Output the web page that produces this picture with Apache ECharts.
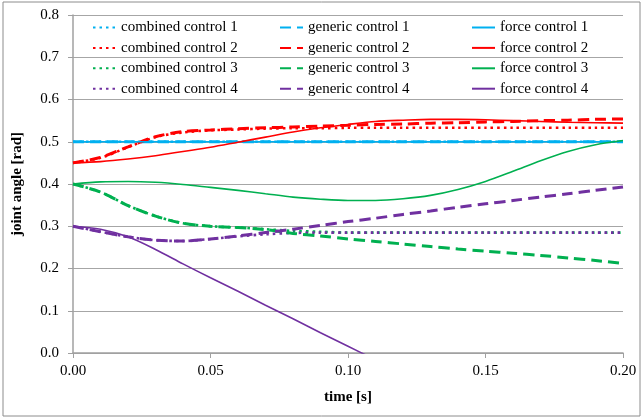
<!DOCTYPE html>
<html>
<head>
<meta charset="utf-8">
<script src="https://cdn.jsdelivr.net/npm/echarts@6/dist/echarts.min.js"></script>
<style>
  html, body { margin: 0; padding: 0; background: #fff; }
  #chart { width: 642px; height: 420px; }
</style>
</head>
<body>
<div id="chart"></div>
<script>
var myChart = echarts.init(document.getElementById('chart'));

// time samples [s]
var times = [0, 0.01, 0.02, 0.03, 0.04, 0.05, 0.06, 0.07, 0.08, 0.09, 0.10,
             0.11, 0.12, 0.13, 0.14, 0.15, 0.16, 0.17, 0.18, 0.19, 0.20];

// joint angle [rad]
var combined1 = [0.5, 0.5, 0.5, 0.5, 0.5, 0.5, 0.5, 0.5, 0.5, 0.5, 0.5,
                 0.5, 0.5, 0.5, 0.5, 0.5, 0.5, 0.5, 0.5, 0.5, 0.5];
var generic1  = [0.5, 0.5, 0.5, 0.5, 0.5, 0.5, 0.5, 0.5, 0.5, 0.5, 0.5,
                 0.5, 0.5, 0.5, 0.5, 0.5, 0.5, 0.5, 0.5, 0.5, 0.5];
var force1    = [0.5, 0.5, 0.5, 0.5, 0.5, 0.5, 0.5, 0.5, 0.5, 0.5, 0.5,
                 0.5, 0.5, 0.5, 0.5, 0.5, 0.5, 0.5, 0.5, 0.5, 0.5];

var combined2 = [0.45, 0.462, 0.487, 0.511, 0.522, 0.527, 0.529, 0.531, 0.532, 0.532, 0.533,
                 0.533, 0.533, 0.533, 0.533, 0.533, 0.533, 0.533, 0.533, 0.533, 0.533];
var generic2  = [0.45, 0.463, 0.488, 0.512, 0.524, 0.528, 0.531, 0.533, 0.535, 0.537, 0.539,
                 0.541, 0.542, 0.544, 0.545, 0.547, 0.548, 0.550, 0.551, 0.553, 0.554];
var force2    = [0.45, 0.453, 0.459, 0.467, 0.477, 0.487, 0.499, 0.511, 0.523, 0.533, 0.541,
                 0.548, 0.551, 0.553, 0.553, 0.552, 0.550, 0.548, 0.546, 0.545, 0.544];

var combined3 = [0.4, 0.381, 0.349, 0.324, 0.307, 0.300, 0.297, 0.293, 0.289, 0.287, 0.285,
                 0.285, 0.285, 0.285, 0.285, 0.285, 0.285, 0.285, 0.285, 0.285, 0.285];
var generic3  = [0.4, 0.381, 0.349, 0.324, 0.307, 0.300, 0.297, 0.292, 0.283, 0.277, 0.270,
                 0.264, 0.258, 0.252, 0.246, 0.241, 0.236, 0.231, 0.225, 0.219, 0.212];
var force3    = [0.4, 0.405, 0.406, 0.404, 0.399, 0.392, 0.385, 0.377, 0.369, 0.364, 0.361,
                 0.361, 0.365, 0.373, 0.387, 0.406, 0.430, 0.455, 0.477, 0.493, 0.503];

var combined4 = [0.3, 0.287, 0.275, 0.267, 0.265, 0.270, 0.276, 0.281, 0.284, 0.285, 0.285,
                 0.285, 0.285, 0.285, 0.285, 0.285, 0.285, 0.285, 0.285, 0.285, 0.285];
var generic4  = [0.3, 0.287, 0.275, 0.267, 0.265, 0.270, 0.277, 0.285, 0.293, 0.302, 0.311,
                 0.319, 0.328, 0.336, 0.345, 0.353, 0.361, 0.369, 0.377, 0.385, 0.393];
var force4    = [0.3, 0.293, 0.275, 0.245, 0.211, 0.178, 0.146, 0.113, 0.081, 0.048, 0.016,
                 -0.016];

var colors = ['#00B0F0', '#FF0000', '#00B050', '#7030A0'];
var font = 'Liberation Serif';

function pairs(vals) {
  return vals.map(function (v, i) { return [times[i], v]; });
}

function makeSeries(name, vals, color, kind) {
  var ls = { color: color };
  if (kind === 'combined') { ls.width = 2.6; ls.type = [2.5, 4]; }
  else if (kind === 'generic') { ls.width = 3; ls.type = [11, 6]; }
  else { ls.width = 1.6; ls.type = 'solid'; }
  return {
    name: name,
    type: 'line',
    smooth: 0.3,
    symbol: 'none',
    color: color,
    lineStyle: ls,
    data: pairs(vals)
  };
}

var series = [
  makeSeries('combined control 1', combined1, colors[0], 'combined'),
  makeSeries('combined control 2', combined2, colors[1], 'combined'),
  makeSeries('combined control 3', combined3, colors[2], 'combined'),
  makeSeries('combined control 4', combined4, colors[3], 'combined'),
  makeSeries('generic control 1', generic1, colors[0], 'generic'),
  makeSeries('generic control 2', generic2, colors[1], 'generic'),
  makeSeries('generic control 3', generic3, colors[2], 'generic'),
  makeSeries('generic control 4', generic4, colors[3], 'generic'),
  makeSeries('force control 1', force1, colors[0], 'force'),
  makeSeries('force control 2', force2, colors[1], 'force'),
  makeSeries('force control 3', force3, colors[2], 'force'),
  makeSeries('force control 4', force4, colors[3], 'force')
];

function legendCol(names, left) {
  return {
    data: names,
    left: left,
    top: 15,
    orient: 'vertical',
    itemWidth: 23,
    itemHeight: 14,
    itemGap: 5.4,
    selectedMode: false,
    itemStyle: { opacity: 0 },
    textStyle: { fontFamily: font, fontSize: 15, color: '#000' }
  };
}

var option = {
  animation: false,
  backgroundColor: '#fff',
  grid: { left: 73, right: 19, top: 15, bottom: 67 },
  legend: [
    legendCol(['combined control 1', 'combined control 2', 'combined control 3', 'combined control 4'], 87),
    legendCol(['generic control 1', 'generic control 2', 'generic control 3', 'generic control 4'], 274),
    legendCol(['force control 1', 'force control 2', 'force control 3', 'force control 4'], 466)
  ],
  xAxis: {
    type: 'value',
    min: 0,
    max: 0.2,
    interval: 0.05,
    name: 'time [s]',
    nameLocation: 'middle',
    nameGap: 37,
    nameTextStyle: { fontFamily: font, fontSize: 15, fontWeight: 'bold', color: '#000' },
    axisLine: { show: true, lineStyle: { color: '#a0a0a0', width: 1.5 } },
    axisTick: { show: true, length: 5, lineStyle: { color: '#a0a0a0' } },
    axisLabel: {
      margin: 11,
      fontFamily: font, fontSize: 15, color: '#000',
      formatter: function (v) { return v.toFixed(2); }
    },
    splitLine: { show: false }
  },
  yAxis: {
    type: 'value',
    min: 0,
    max: 0.8,
    interval: 0.1,
    name: 'joint angle [rad]',
    nameLocation: 'middle',
    nameGap: 48,
    nameTextStyle: { fontFamily: font, fontSize: 15, fontWeight: 'bold', color: '#000' },
    axisLine: { show: true, lineStyle: { color: '#a0a0a0', width: 1.5 } },
    axisTick: { show: true, length: 5, lineStyle: { color: '#a0a0a0' } },
    axisLabel: {
      margin: 14,
      fontFamily: font, fontSize: 15, color: '#000',
      formatter: function (v) { return v.toFixed(1); }
    },
    splitLine: { show: true, lineStyle: { color: '#a6a6a6', width: 1.2 } }
  },
  graphic: [{
    type: 'rect',
    silent: true,
    shape: { x: 3, y: 2, width: 637, height: 414 },
    style: { fill: 'none', stroke: '#8c8c8c', lineWidth: 1 }
  }],
  series: series
};

myChart.setOption(option);
</script>
</body>
</html>
